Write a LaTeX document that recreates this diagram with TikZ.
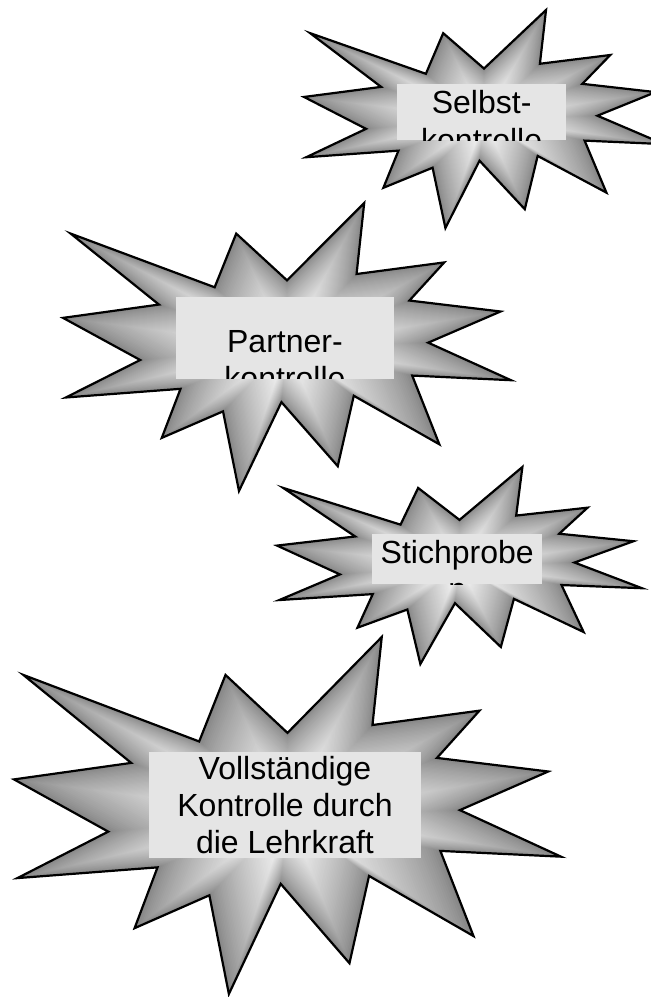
\documentclass[tikz,border=0pt]{standalone}
\usepackage{fontspec}
\setmainfont{Liberation Sans}
\definecolor{edgegray}{gray}{0.52}
\definecolor{boxgray}{gray}{0.9}
\newcommand\burstpath{(50,26.852) -- (67.231,0) -- (65.532,24.653) -- (85.093,20.634) -- (77.324,33.866) -- (97.671,37.671) -- (81.514,48.495) -- (100,61.528) -- (77.949,59.917) -- (84.005,83.773) -- (64.907,66.931) -- (61.329,91.375) -- (48.759,69.144) -- (39.282,100) -- (35.718,72.347) -- (22.046,81.560) -- (26.236,64.523) -- (0.625,67.532) -- (17.231,54.514) -- (0,39.884) -- (21.421,35.264) -- (1.713,10.625) -- (33.852,29.259) -- (38.667,10.625) -- cycle}
\newcommand\drawburst[4]{%
  \begin{scope}[shift={(#1,#2)},xscale=#3/100,yscale=#4/100]
    \foreach \ii in {0,...,59}{%
      \pgfmathsetmacro\sfac{1-\ii/60}%
      \pgfmathsetmacro\wh{100*(\ii/59)^0.75}%
      \fill[white!\wh!edgegray,shift={(50,50)},scale=\sfac,shift={(-50,-50)}] \burstpath;
    }
    \draw[outline] \burstpath;
  \end{scope}}
\begin{document}
\begin{tikzpicture}[x=1pt,y=-1pt,
  outline/.style={draw=black,line width=2.2pt,line join=miter},
  tbox/.style={fill=boxgray,draw=none,inner sep=0pt,outer sep=0pt},
  txt/.style={anchor=base,inner sep=0pt,outer sep=0pt,font=\fontsize{32}{37}\selectfont}]
\useasboundingbox (0,0) rectangle (651,997);
\clip (0,0) rectangle (651,997);

% Selbstkontrolle
\drawburst{304}{10}{360}{218}
\node[tbox,minimum width=168.7pt,minimum height=56pt] (selbst) at (481.65,112) {};
\begin{scope}
  \clip (selbst.south west) rectangle (selbst.north east);
  \node[txt] (selbst1) at (481.65,113.5) {Selbst-};
  \node[txt] (selbst2) at (481.65,151) {kontrolle};
\end{scope}

% Partnerkontrolle
\drawburst{63}{203}{448}{288}
\node[tbox,minimum width=218.5pt,minimum height=81.4pt] (partner) at (284.95,338) {};
\begin{scope}
  \clip (partner.south west) rectangle (partner.north east);
  \node[txt] (partner1) at (284.95,352) {Partner-};
  \node[txt] (partner2) at (284.95,389.5) {kontrolle};
\end{scope}

% Stichproben
\drawburst{277}{467}{365}{197}
\node[tbox,minimum width=169.7pt,minimum height=50.2pt] (stich) at (457.2,559.1) {};
\begin{scope}
  \clip (stich.south west) rectangle (stich.north east);
  \node[txt] (stich1) at (457.2,563) {Stichprobe};
  \node[txt] (stich2) at (457.2,600.5) {n};
\end{scope}

% Vollstaendige Kontrolle
\drawburst{14}{637}{547}{357}
\node[tbox,minimum width=272pt,minimum height=106.6pt] (voll) at (285,805) {};
\node[txt] (voll1) at (285,779.5) {Vollständige};
\node[txt] (voll2) at (285,816.3) {Kontrolle durch};
\node[txt] (voll3) at (285,853.1) {die Lehrkraft};
\end{tikzpicture}
\end{document}
